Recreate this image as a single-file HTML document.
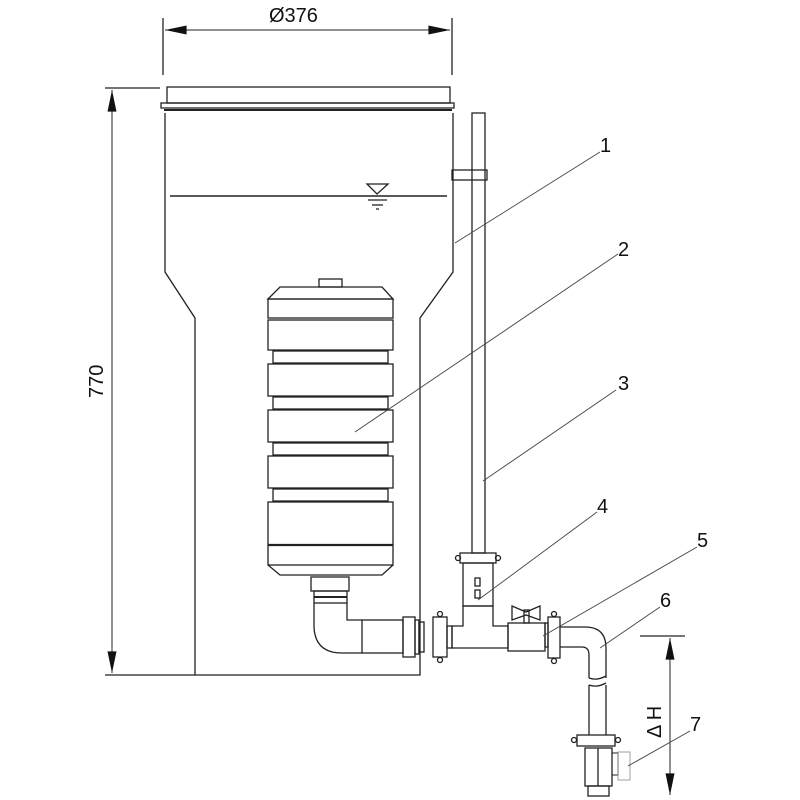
<!DOCTYPE html>
<html><head><style>html,body{margin:0;padding:0;background:#fff}svg{display:block}</style></head>
<body>
<svg width="800" height="800" viewBox="0 0 800 800" xmlns="http://www.w3.org/2000/svg" font-family="Liberation Sans, sans-serif">
<defs>
<marker id="a" viewBox="0 0 24 10" refX="24" refY="5" markerWidth="24" markerHeight="9" orient="auto-start-reverse" markerUnits="userSpaceOnUse"><path d="M0,0 L24,5 L0,10 z" fill="#111"/></marker>
</defs>
<g fill="none" stroke="#222" stroke-width="1.3">
<line x1="163" y1="18" x2="163" y2="75"/>
<line x1="452" y1="18" x2="452" y2="75"/>
<line x1="165" y1="30" x2="450" y2="30" marker-start="url(#a)" marker-end="url(#a)" stroke-width="1"/>
<line x1="105" y1="88" x2="160" y2="88"/>
<line x1="105" y1="675" x2="195" y2="675"/>
<line x1="112" y1="90" x2="112" y2="673" marker-start="url(#a)" marker-end="url(#a)" stroke-width="1"/>
<line x1="640" y1="636" x2="685" y2="636"/>
<line x1="670" y1="638" x2="670" y2="795" marker-start="url(#a)" marker-end="url(#a)" stroke-width="1"/>
<rect x="167" y="87" width="283" height="16"/>
<rect x="161" y="103" width="293" height="5"/>
<line x1="164" y1="110" x2="452" y2="110" stroke-width="2"/>
<path d="M165,113 L165,272 L195,318 L195,675 L420,675 L420,318 L453,272 L453,113"/>
<line x1="170" y1="196" x2="447" y2="196" stroke-width="1.5"/>
<path d="M367,184 L388,184 L377,194 Z"/>
<line x1="368" y1="200" x2="387" y2="200"/>
<line x1="372" y1="205" x2="383" y2="205"/>
<line x1="376" y1="209" x2="379" y2="209"/>
<rect x="472" y="113" width="13" height="440"/>
<rect x="452" y="170" width="35" height="10"/>
<rect x="319" y="279" width="23" height="8"/>
<path d="M280,287 L382,287 L393,299 L268,299 Z"/>
<rect x="268" y="299" width="125" height="19"/>
<rect x="268" y="320" width="125" height="30"/>
<rect x="273" y="351" width="115" height="12"/>
<rect x="268" y="364" width="125" height="32"/>
<rect x="273" y="397" width="115" height="12"/>
<rect x="268" y="410" width="125" height="32"/>
<rect x="273" y="443" width="115" height="12"/>
<rect x="268" y="456" width="125" height="32"/>
<rect x="273" y="489" width="115" height="12"/>
<rect x="268" y="502" width="125" height="63"/>
<line x1="268" y1="545" x2="393" y2="545" stroke-width="2.2"/>
<path d="M268,565 L280,575 L382,575 L393,565"/>
<rect x="311" y="577" width="38" height="14"/>
<rect x="314" y="591" width="33" height="12"/>
<line x1="314" y1="597" x2="347" y2="597" stroke-width="2"/>
<path d="M314,603 L314,625 Q314,653 342,653 L362,653 M347,603 L347,620 L362,620"/>
<rect x="362" y="620" width="41" height="33"/>
<rect x="403" y="617" width="12" height="40"/>
<rect x="415" y="620" width="4" height="34"/>
<rect x="419" y="622" width="5" height="30"/>
<rect x="433" y="617" width="14" height="40"/>
<rect x="447" y="626" width="5" height="22"/>
<circle cx="440" cy="614" r="2.5"/><circle cx="440" cy="660" r="2.5"/>
<path d="M452,626 L463,626 L463,606 L493,606 L493,626 L508,626 L508,648 L452,648 Z"/>
<rect x="463" y="563" width="30" height="43"/>
<rect x="460" y="553" width="36" height="10"/>
<circle cx="458" cy="558" r="2.5"/><circle cx="498" cy="558" r="2.5"/>
<rect x="475" y="578" width="5" height="8"/><rect x="475" y="590" width="5" height="8"/>
<rect x="508" y="623" width="37" height="28"/>
<path d="M512,606 L526,612 L540,606 L540,620 L526,615 L512,620 Z"/>
<rect x="524" y="610" width="5" height="13"/>
<rect x="545" y="623" width="3" height="24"/>
<rect x="548" y="617" width="12" height="41"/>
<circle cx="554" cy="614" r="2.5"/><circle cx="554" cy="661" r="2.5"/>
<path d="M560,627 L585,627 Q606,627 606,648 L606,678 M560,647 L582,647 Q589,647 589,655 L589,678"/>
<path d="M589,678 Q597,681 606,676 M589,685 Q597,688 606,683"/>
<path d="M589,685 L589,735 M606,685 L606,735"/>
<rect x="577" y="735" width="38" height="11"/>
<circle cx="574" cy="740" r="2.5"/><circle cx="618" cy="740" r="2.5"/>
<rect x="585" y="748" width="27" height="38"/>
<rect x="588" y="786" width="21" height="10"/>
<line x1="598" y1="748" x2="598" y2="786"/>
<rect x="612" y="753" width="6" height="22" stroke-width="1"/>
<rect x="618" y="752" width="12" height="28" stroke-width="0.8" stroke="#888"/>
</g>
<g stroke="#444" stroke-width="0.9" fill="none">
<line x1="600" y1="152" x2="455" y2="243"/>
<line x1="618" y1="254" x2="355" y2="432"/>
<line x1="616" y1="390" x2="483" y2="481"/>
<line x1="597" y1="512" x2="478" y2="600"/>
<line x1="697" y1="547" x2="543" y2="636"/>
<line x1="660" y1="607" x2="600" y2="648"/>
<line x1="690" y1="731" x2="628" y2="766"/>
</g>
<g font-size="20" fill="#111">
<text x="269" y="22">Ø376</text>
<text x="600" y="152">1</text>
<text x="618" y="256">2</text>
<text x="618" y="390">3</text>
<text x="597" y="513">4</text>
<text x="697" y="547">5</text>
<text x="660" y="607">6</text>
<text x="690" y="731">7</text>
<text transform="translate(103,398) rotate(-90)">770</text>
<text transform="translate(661,738) rotate(-90)">Δ H</text>
</g>
</svg>
</body></html>
